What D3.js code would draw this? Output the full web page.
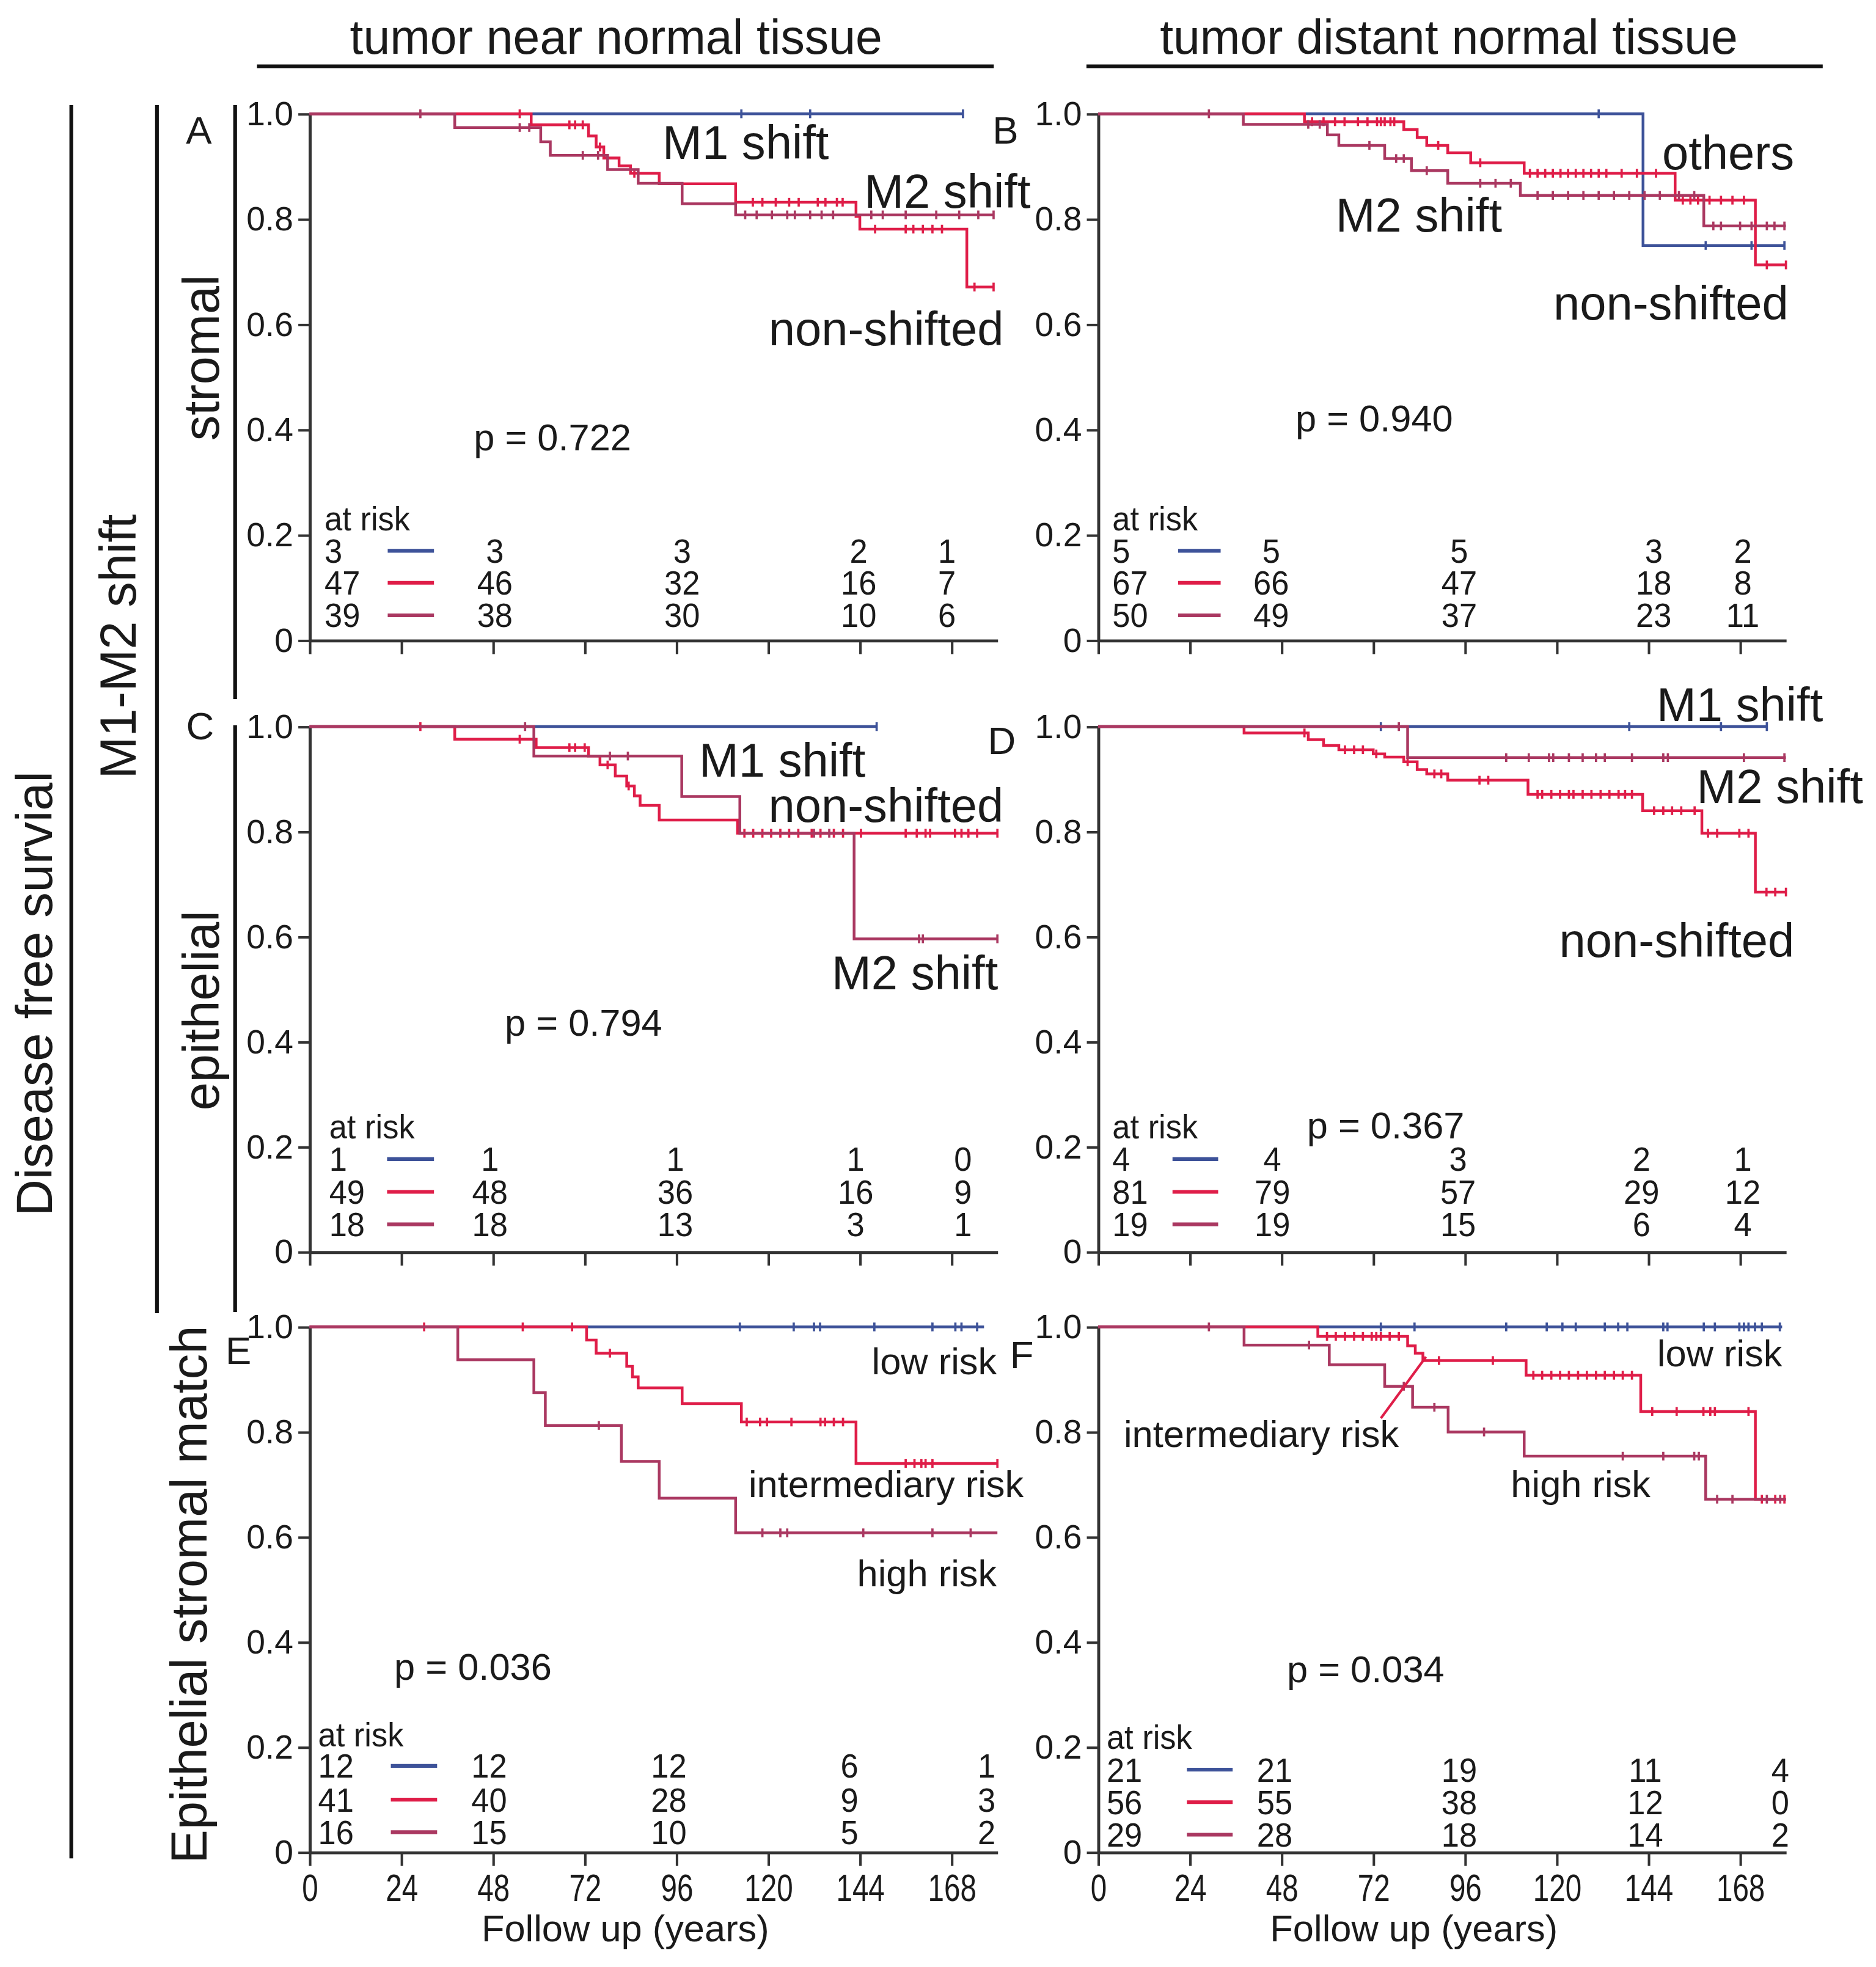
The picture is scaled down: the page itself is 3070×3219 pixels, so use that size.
<!DOCTYPE html>
<html>
<head>
<meta charset="utf-8">
<script src="https://cdn.jsdelivr.net/npm/d3@7"></script>
<style>
  body { margin: 0; background: #fff; }
  svg text { font-family: 'Liberation Sans', Arial, sans-serif; fill: #1a1a1a; }
</style>
</head>
<body>
<svg id="fig"></svg>
<script>
// axis ticks
var timeTicks = [0, 24, 48, 72, 96, 120, 144, 168];
var survTicks = [0, 0.2, 0.4, 0.6, 0.8, 1.0];
var pValues = ["0.722", "0.940", "0.794", "0.367", "0.036", "0.034"];

// A - stromal, tumor near normal tissue  [time, survival]
var aM1 = [[0,1],[171,1]];
var aM1Cens = [113, 131, 171];
var aNon = [[0,1],[58,0.979],[73,0.958],[75,0.937],[77,0.916],[81,0.901],[84,0.887],[91.5,0.867],[111.5,0.832],[143,0.805],[144,0.781],[172,0.671],[179,0.671]];
var aNonCens = [55,68,69.5,71.5,76,85,116,118.5,122,125.5,128,133,135,138,139.5,148,156,158,160.5,163,165.5,174,179];
var aM2 = [[0,1],[38,0.974],[60.5,0.947],[63,0.921],[78,0.894],[86,0.868],[97.5,0.829],[111.5,0.808],[179,0.808]];
var aM2Cens = [29,55,57.5,71.5,75.5,114,117,121,125,127,131,134,137,147,150,156,164,170,175,179];
var aRisk = [[3,3,3,2,1],[47,46,32,16,7],[39,38,30,10,6]];
var aRiskTimes = [0, 48.5, 97.5, 143.7, 166.8];

// B - stromal, tumor distant normal tissue
var bOth = [[0,1],[142.6,0.75],[179.6,0.75]];
var bOthCens = [131, 159, 171, 179.6];
var bNon = [[0,1],[54,0.985],[80,0.970],[83.5,0.955],[86,0.940],[91.5,0.926],[97.5,0.907],[111.5,0.887],[151,0.836],[172,0.713],[180,0.713]];
var bNonCens = [56,59,62,64.5,68,70.5,73,74,75,76.5,77.5,89,100,113,115,117,119,121,123,125,127,129,131,133,137,141,146,153,155,157,160,163,166,169,175,180];
var bM2 = [[0,1],[38,0.98],[60,0.96],[63,0.94],[75,0.915],[82,0.892],[91.5,0.868],[110.5,0.845],[158.5,0.787],[180,0.787]];
var bM2Cens = [29,55,58,71,78,80,86,100,104,108,115,119,123,127,131,135,139,143,147,152,156,161,163,168,171,175,177,179.6];
var bRisk = [[5,5,5,3,2],[67,66,47,18,8],[50,49,37,23,11]];
var bRiskTimes = [0, 45.3, 94.5, 145.4, 168.7];

// C - epithelial, tumor near normal tissue
var cM1 = [[0,1],[148.4,1]];
var cM1Cens = [148.4];
var cNon = [[0,1],[38,0.976],[59.3,0.960],[73,0.944],[76,0.927],[80,0.906],[83,0.887],[85,0.868],[86.5,0.850],[91.5,0.822],[112,0.797],[180,0.797]];
var cNonCens = [29,55,68,69.5,72,78,83.5,113.8,116.1,118.5,120.8,123.2,125.5,127.9,131.4,133.7,137.2,139.6,144.3,156,158.9,161.2,162.4,168.9,170.6,172.4,174.7,180];
var cM2 = [[0,1],[58.7,0.944],[97.4,0.867],[112.6,0.797],[142.5,0.596],[180,0.596]];
var cM2Cens = [56.4,78.6,83.3,132,136,159.5,160.5,180];
var cRisk = [[1,1,1,1,0],[49,48,36,16,9],[18,18,13,3,1]];
var cRiskTimes = [0, 47.2, 95.7, 142.9, 171];

// D - epithelial, tumor distant normal tissue
var dM1 = [[0,1],[175,1]];
var dM1Cens = [74, 139, 163, 175];
var dNon = [[0,1],[38.2,0.988],[55,0.975],[59,0.964],[63,0.956],[72,0.948],[75,0.942],[80,0.933],[83.5,0.918],[86,0.910],[91.5,0.898],[112.5,0.871],[142.5,0.840],[158,0.797],[172,0.685],[180,0.685]];
var dNonCens = [54,64.6,67,69.3,72.8,81,88,89.8,99.8,102.1,115,116.2,118.6,120.9,123.2,124.4,126.8,129.1,131.5,133.8,136.2,137.9,139.7,145.5,147.9,150.2,152.6,156.1,159.6,162,167.8,170.2,174.9,177.2,180];
var dM2 = [[0,1],[81,0.941],[180,0.941]];
var dM2Cens = [78.7,106.8,112.7,118,119.1,123.2,126.8,130.3,132.6,139.7,147.9,149.1,169,179.6];
var dRisk = [[4,4,3,2,1],[81,79,57,29,12],[19,19,15,6,4]];
var dRiskTimes = [0, 45.6, 94.2, 142.2, 168.7];

// E - epithelial stromal match, near
var eLow = [[0,1],[176.5,1]];
var eLowCens = [112.6,126.7,132,133.6,147.8,163,169,170.6,174.7];
var eInt = [[0,1],[72.5,0.975],[75,0.950],[83,0.925],[84.5,0.905],[86,0.884],[97.5,0.854],[113,0.819],[143,0.740],[180,0.740]];
var eIntCens = [30,55.8,68.7,78.6,114.4,117.9,119.7,126.1,133.7,134.9,137.2,139.6,156,158.3,160.1,161.2,163,180];
var eHigh = [[0,1],[38.8,0.9375],[58.7,0.875],[61.7,0.8125],[81.6,0.744],[91.5,0.674],[111.5,0.608],[180,0.608]];
var eHighCens = [75.7,118.5,123.2,125,144.9,163,173];
var eRisk = [[12,12,12,6,1],[41,40,28,9,3],[16,15,10,5,2]];
var eRiskTimes = [0, 47, 94, 141.3, 177.2];

// F - epithelial stromal match, distant
var fLow = [[0,1],[179,1]];
var fLowCens = [74,82.8,106.8,117.4,121.5,125,132.6,136.1,138.5,147.9,149,158.5,161.4,167.8,169,170.2,171.9,173.7,178.4];
var fInt = [[0,1],[57.5,0.982],[81,0.964],[83,0.950],[85,0.936],[112,0.908],[142,0.839],[172,0.672],[180,0.672]];
var fIntCens = [59.9,62.2,64.6,67,69.3,71.6,72.8,74,76.3,78.7,89.2,103.3,113.9,116.2,118.6,120.9,123.2,125.6,127.9,130.3,132.6,135,137.3,139.7,145,151.4,158.4,160.2,161.4,170.2,173.7,177.2,179.6];
var fHigh = [[0,1],[38.2,0.9655],[60.5,0.928],[75,0.887],[82.3,0.847],[91.6,0.800],[111.5,0.754],[159,0.672],[180,0.672]];
var fHighCens = [29,55.2,80,88,101,137.3,147.9,156,157.2,162,166,175,178.5];
var fRisk = [[21,21,19,11,4],[56,55,38,12,0],[29,28,18,14,2]];
var fRiskTimes = [0, 46.2, 94.5, 143.2, 178.5];

var BLUE = "#3d5299", RED = "#df1d48", MAROON = "#aa3861", AXIS = "#333", INK = "#1a1a1a";
var riskColors = [BLUE, RED, MAROON];

var W = 1500, H = 1572.8;
var svg = d3.select("#fig").attr("width", 3070).attr("height", 3219)
  .attr("viewBox", "0 0 " + W + " " + H);
svg.append("rect").attr("width", W).attr("height", H).attr("fill", "#fff");

// panel layout
var panels = [
  { name: "A", left: 247.5, top: 91, bottom: 512, curves: [[aM1, aM1Cens, BLUE], [aNon, aNonCens, RED], [aM2, aM2Cens, MAROON]],
    risk: aRisk, riskTimes: aRiskTimes, riskX: 12, riskY: [414.7, 440.4, 466, 492], leg: [62.5, 99.5],
    letter: [159, 114.8], p: [378.8, 359.9], labelSize: 38,
    labels: [["M1 shift", 529.7, 126.8, "start"], ["M2 shift", 691, 166.3, "start"], ["non-shifted", 802.5, 276, "end"]] },
  { name: "B", left: 878, top: 91, bottom: 512, curves: [[bOth, bOthCens, BLUE], [bNon, bNonCens, RED], [bM2, bM2Cens, MAROON]],
    risk: bRisk, riskTimes: bRiskTimes, riskX: 11.4, riskY: [414.7, 440.4, 466, 492], leg: [64, 98],
    letter: [804, 114.8], p: [1035.8, 345], labelSize: 38,
    labels: [["others", 1329, 135.4, "start"], ["M2 shift", 1068, 185, "start"], ["non-shifted", 1242, 255.3, "start"]] },
  { name: "C", left: 247.5, top: 581, bottom: 1001, curves: [[cM1, cM1Cens, BLUE], [cNon, cNonCens, RED], [cM2, cM2Cens, MAROON]],
    risk: cRisk, riskTimes: cRiskTimes, riskX: 15.7, riskY: [900.6, 926.8, 953, 979], leg: [62, 99.5],
    letter: [160, 591], p: [403.6, 828], labelSize: 38,
    labels: [["M1 shift", 559, 621, "start"], ["non-shifted", 614.4, 657, "start"], ["M2 shift", 665, 791, "start"]] },
  { name: "D", left: 878, top: 581, bottom: 1001, curves: [[dM1, dM1Cens, BLUE], [dNon, dNonCens, RED], [dM2, dM2Cens, MAROON]],
    risk: dRisk, riskTimes: dRiskTimes, riskX: 11.4, riskY: [900.6, 926.8, 953, 979], leg: [59.5, 96],
    letter: [801, 603], p: [1045, 910.4], labelSize: 38,
    labels: [["M1 shift", 1324.6, 576.7, "start"], ["M2 shift", 1356.6, 642, "start"], ["non-shifted", 1246.7, 765, "start"]] },
  { name: "E", left: 247.5, top: 1061, bottom: 1481, curves: [[eLow, eLowCens, BLUE], [eInt, eIntCens, RED], [eHigh, eHighCens, MAROON]],
    risk: eRisk, riskTimes: eRiskTimes, riskX: 6.8, riskY: [1387, 1412, 1439, 1465], leg: [65, 102],
    letter: [190.6, 1090.6], p: [315.2, 1343.3], labelSize: 30, bottomRow: true,
    labels: [["low risk", 797, 1099, "end"], ["intermediary risk", 598.5, 1197, "start"], ["high risk", 797, 1268.4, "end"]] },
  { name: "F", left: 878, top: 1061, bottom: 1481, curves: [[fLow, fLowCens, BLUE], [fInt, fIntCens, RED], [fHigh, fHighCens, MAROON]],
    risk: fRisk, riskTimes: fRiskTimes, riskX: 6.8, riskY: [1389, 1415, 1441, 1467], leg: [71, 107.6],
    letter: [817, 1094], p: [1029, 1345.1], labelSize: 30, bottomRow: true, pointer: [[74, 0.826], [85.8, 0.943]],
    labels: [["low risk", 1425, 1092.3, "end"], ["intermediary risk", 898.5, 1157, "start"], ["high risk", 1208, 1196.9, "start"]] }
];

function survAt(steps, t) {
  var s = 1;
  steps.forEach(function(p) { if (p[0] <= t) s = p[1]; });
  return s;
}

panels.forEach(function(p, i) {
  var g = svg.append("g");
  var x = d3.scaleLinear().domain([0, 180]).range([p.left, p.left + 550]);
  var y = d3.scaleLinear().domain([0, 1]).range([p.bottom, p.top]);

  // axes
  var ya = g.append("g").attr("transform", "translate(" + p.left + ",0)")
    .call(d3.axisLeft(y).tickValues(survTicks).tickSize(9).tickSizeOuter(0).tickPadding(4)
      .tickFormat(function(d) { return d === 0 ? "0" : d.toFixed(1); }));
  var xa = g.append("g").attr("transform", "translate(0," + p.bottom + ")")
    .call(d3.axisBottom(x).tickValues(timeTicks).tickSize(11).tickSizeOuter(0).tickPadding(6)
      .tickFormat(p.bottomRow ? d3.format("d") : ""));
  [ya, xa].forEach(function(a) {
    a.select(".domain").attr("stroke", AXIS).attr("stroke-width", 2.4);
    a.selectAll(".tick line").attr("stroke", AXIS).attr("stroke-width", 2);
    a.selectAll(".tick text").attr("fill", INK).style("font-family", "'Liberation Sans', Arial, sans-serif");
  });
  ya.selectAll(".tick text").style("font-size", "27px");
  xa.selectAll(".tick text").style("font-size", "31px").attr("transform", "scale(0.75,1)");

  // survival curves
  var line = d3.line().x(function(d) { return x(d[0]); }).y(function(d) { return y(d[1]); }).curve(d3.curveStepAfter);
  p.curves.forEach(function(c) {
    g.append("path").datum(c[0]).attr("d", line)
      .attr("fill", "none").attr("stroke", c[2]).attr("stroke-width", 2.2);
    g.selectAll(null).data(c[1]).enter().append("line")
      .attr("x1", function(t) { return x(t); }).attr("x2", function(t) { return x(t); })
      .attr("y1", function(t) { return y(survAt(c[0], t)) - 3.5; })
      .attr("y2", function(t) { return y(survAt(c[0], t)) + 3.5; })
      .attr("stroke", c[2]).attr("stroke-width", 1.8);
  });

  if (p.pointer) {
    g.append("line")
      .attr("x1", x(p.pointer[0][0])).attr("y1", y(p.pointer[0][1]))
      .attr("x2", x(p.pointer[1][0])).attr("y2", y(p.pointer[1][1]))
      .attr("stroke", RED).attr("stroke-width", 2);
  }

  // at risk table
  var rx = p.left + p.riskX;
  g.append("g").attr("transform", "translate(" + rx + "," + p.riskY[0] + ") scale(0.95,1)")
    .append("text").attr("dominant-baseline", "central").style("font-size", "27px").text("at risk");
  p.risk.forEach(function(row, r) {
    var yy = p.riskY[r + 1];
    g.append("line").attr("x1", p.left + p.leg[0]).attr("x2", p.left + p.leg[1])
      .attr("y1", yy).attr("y2", yy).attr("stroke", riskColors[r]).attr("stroke-width", 3);
    row.forEach(function(v, j) {
      var px = j === 0 ? rx : x(p.riskTimes[j]);
      g.append("g").attr("transform", "translate(" + px + "," + yy + ") scale(0.95,1)")
        .append("text").attr("dominant-baseline", "central")
        .attr("text-anchor", j === 0 ? "start" : "middle")
        .style("font-size", "27px").text(v);
    });
  });

  // p value, curve labels, panel letter
  g.append("text").attr("x", p.p[0]).attr("y", p.p[1]).style("font-size", "30px").text("p = " + pValues[i]);
  p.labels.forEach(function(l) {
    g.append("text").attr("x", l[1]).attr("y", l[2]).attr("text-anchor", l[3])
      .style("font-size", p.labelSize + "px").text(l[0]);
  });
  g.append("text").attr("x", p.letter[0]).attr("y", p.letter[1]).attr("text-anchor", "middle")
    .style("font-size", "31px").text(p.name);

  if (p.bottomRow) {
    g.append("text").attr("x", x(90) - 22.5).attr("y", 1542).attr("text-anchor", "middle")
      .attr("dominant-baseline", "central").style("font-size", "30px").text("Follow up (years)");
  }
});

// column headers
var headers = [["tumor near normal tissue", 492.6, 205.5, 794.6], ["tumor distant normal tissue", 1158.5, 868.7, 1457.4]];
headers.forEach(function(h) {
  svg.append("text").attr("x", h[1]).attr("y", 42.8).attr("text-anchor", "middle")
    .style("font-size", "38.5px").text(h[0]);
  svg.append("line").attr("x1", h[2]).attr("x2", h[3]).attr("y1", 53).attr("y2", 53)
    .attr("stroke", "#111").attr("stroke-width", 3);
});

// row brackets and rotated labels
var brackets = [[57, 84, 1486], [125.5, 84, 1050], [188, 84, 559], [188, 580, 1049]];
brackets.forEach(function(b) {
  svg.append("line").attr("x1", b[0]).attr("x2", b[0]).attr("y1", b[1]).attr("y2", b[2])
    .attr("stroke", "#111").attr("stroke-width", 3);
});
var sideLabels = [["Disease free survial", 41.3, 794.5], ["M1-M2 shift", 108.6, 517], ["stromal", 174.8, 286],
                  ["epithelial", 174.8, 808], ["Epithelial stromal match", 165, 1275]];
sideLabels.forEach(function(s) {
  svg.append("text").attr("transform", "translate(" + s[1] + "," + s[2] + ") rotate(-90)")
    .attr("text-anchor", "middle").style("font-size", "40.5px").text(s[0]);
});
</script>
</body>
</html>
